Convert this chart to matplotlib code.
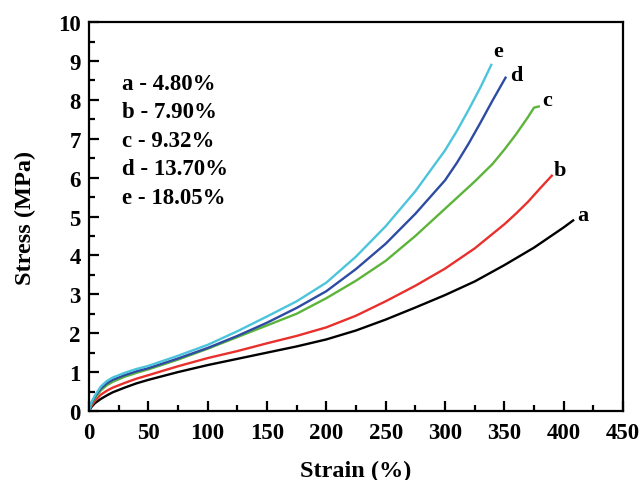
import matplotlib.pyplot as plt
from matplotlib.ticker import MultipleLocator

plt.rcParams['font.family'] = 'Liberation Serif'
plt.rcParams['font.weight'] = 'bold'

# strain (%) / stress (MPa)
strain_a = [0, 2, 5, 10, 15, 20, 30, 40, 50, 75, 100, 125, 150, 175, 200, 225, 250, 275, 300, 325, 350, 375, 400, 408]
stress_a = [0, 0.1, 0.2, 0.31, 0.4, 0.48, 0.6, 0.71, 0.8, 1.0, 1.18, 1.34, 1.5, 1.66, 1.84, 2.07, 2.35, 2.66, 2.98, 3.33, 3.75, 4.2, 4.72, 4.9]

strain_b = [0, 2, 5, 10, 15, 20, 30, 40, 50, 75, 100, 125, 150, 175, 200, 225, 250, 275, 300, 325, 350, 360, 370, 380, 390]
stress_b = [0, 0.13, 0.26, 0.42, 0.52, 0.6, 0.72, 0.83, 0.92, 1.15, 1.36, 1.54, 1.74, 1.93, 2.15, 2.45, 2.82, 3.22, 3.66, 4.18, 4.8, 5.08, 5.38, 5.72, 6.05]

strain_c = [0, 2, 5, 10, 15, 20, 30, 40, 50, 75, 100, 125, 150, 175, 200, 225, 250, 275, 300, 325, 340, 350, 360, 370, 375, 379]
stress_c = [0, 0.18, 0.33, 0.53, 0.66, 0.75, 0.88, 0.98, 1.07, 1.32, 1.6, 1.9, 2.2, 2.5, 2.9, 3.35, 3.86, 4.5, 5.2, 5.9, 6.35, 6.72, 7.12, 7.56, 7.8, 7.83]

strain_d = [0, 2, 5, 10, 15, 20, 30, 40, 50, 75, 100, 125, 150, 175, 200, 225, 250, 275, 300, 310, 320, 330, 340, 351]
stress_d = [0, 0.2, 0.37, 0.58, 0.71, 0.8, 0.92, 1.02, 1.1, 1.35, 1.62, 1.93, 2.27, 2.65, 3.08, 3.65, 4.3, 5.07, 5.93, 6.38, 6.88, 7.42, 7.98, 8.57]

strain_e = [0, 2, 5, 10, 15, 20, 30, 40, 50, 75, 100, 125, 150, 175, 200, 225, 250, 275, 300, 310, 320, 330, 339]
stress_e = [0, 0.22, 0.4, 0.63, 0.77, 0.86, 0.98, 1.08, 1.16, 1.42, 1.7, 2.05, 2.43, 2.82, 3.3, 3.97, 4.75, 5.65, 6.7, 7.2, 7.75, 8.33, 8.9]

names = ['a', 'b', 'c', 'd', 'e']
contents = ['4.80%', '7.90%', '9.32%', '13.70%', '18.05%']
colors = ['black', '#e8302c', '#5cb43a', '#2d4ba3', '#4cc4dc']

fig = plt.figure(figsize=(6.42, 4.81), dpi=100)
ax = fig.add_axes([0.1386, 0.1435, 0.8318, 0.8085])

curves = [(strain_a, stress_a), (strain_b, stress_b), (strain_c, stress_c),
          (strain_d, stress_d), (strain_e, stress_e)]
for (x, y), c in zip(curves, colors):
    ax.plot(x, y, color=c, linewidth=1.7)

# curve letters at the ends
label_pos = [(416, 5.04), (397, 6.2), (386, 8.0), (360, 8.63), (345, 9.26)]
for n, (lx, ly) in zip(names, label_pos):
    ax.text(lx, ly, n, fontsize=16, fontweight='bold', ha='center', va='center')

# composition list
for i, (n, t) in enumerate(zip(names, contents)):
    ax.text(28, 8.42 - 0.73 * i, n + ' - ' + t, fontsize=16.5, fontweight='bold',
            ha='left', va='center')

ax.set_xlim(0, 450)
ax.set_ylim(0, 10)
ax.xaxis.set_major_locator(MultipleLocator(50))
ax.xaxis.set_minor_locator(MultipleLocator(25))
ax.yaxis.set_major_locator(MultipleLocator(1))
ax.yaxis.set_minor_locator(MultipleLocator(0.5))
ax.tick_params(which='both', direction='in', width=1.6, labelsize=16.5,
               top=False, right=False)
ax.tick_params(which='major', length=7, pad=6)
ax.tick_params(which='minor', length=4)
ax.tick_params(axis='x', which='major', pad=8)
for s in ax.spines.values():
    s.set_linewidth(1.6)

ax.set_xlabel('Strain (%)', fontsize=17.5, fontweight='bold', labelpad=12)
ax.set_ylabel('Stress (MPa)', fontsize=17.5, fontweight='bold', labelpad=16)

fig.savefig('out.png', dpi=100)
